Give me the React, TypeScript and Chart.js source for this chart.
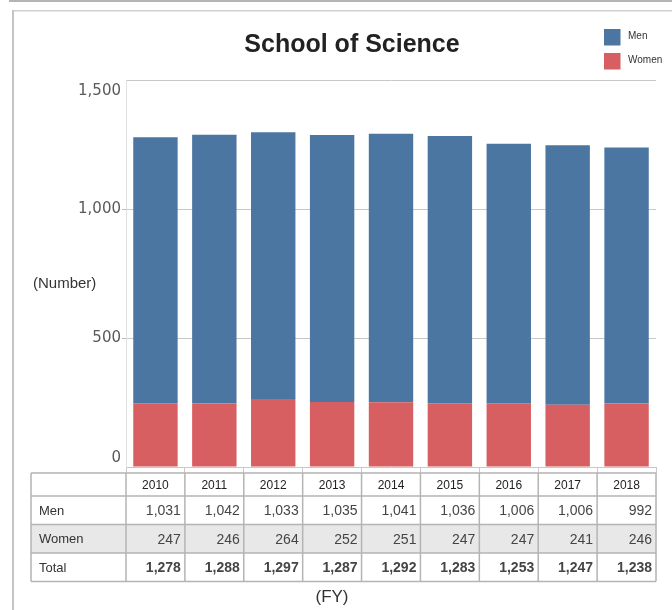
import React, { useEffect, useRef } from 'react';
import { Chart, registerables } from 'chart.js';

Chart.register(...registerables);

const years = ['2010', '2011', '2012', '2013', '2014', '2015', '2016', '2017', '2018'];
const men = [1031, 1042, 1033, 1035, 1041, 1036, 1006, 1006, 992];
const women = [247, 246, 264, 252, 251, 247, 247, 241, 246];
const totals = [1278, 1288, 1297, 1287, 1292, 1283, 1253, 1247, 1238];
const yTicks = [0, 500, 1000, 1500];
const seriesNames = ['Men', 'Women'];
const rowLabels = ['Men', 'Women', 'Total'];
const titleText = 'School of Science';
const yAxisLabel = '(Number)';
const xAxisLabel = '(FY)';

const MEN_COLOR = '#4a76a1';
const WOMEN_COLOR = '#d85f61';
const FONT = '"Liberation Sans", Arial, sans-serif';

const fmt = (v: number) => v.toLocaleString('en-US');

const framePlugin = {
  id: 'frame',
  beforeDraw(chart: any) {
    const ctx = chart.ctx;
    ctx.save();
    ctx.fillStyle = '#ffffff';
    ctx.fillRect(0, 0, chart.width, chart.height);
    ctx.fillStyle = '#b4b4b4';
    ctx.fillRect(9, 0, chart.width - 9, 2);
    ctx.fillStyle = '#d0d0d0';
    ctx.fillRect(12, 10, chart.width - 12, 1.5);
    ctx.fillStyle = '#c4c4c4';
    ctx.fillRect(12, 10, 2, chart.height - 10);
    ctx.restore();
  },
};

const decorPlugin = {
  id: 'decor',
  afterDraw(chart: any) {
    const ctx = chart.ctx;
    const area = chart.chartArea;
    const ys = chart.scales.y;
    const xs = chart.scales.x;
    ctx.save();

    // y tick labels
    ctx.font = '15px "DejaVu Sans", sans-serif';
    ctx.fillStyle = '#5a5a5a';
    ctx.textAlign = 'right';
    ctx.textBaseline = 'middle';
    yTicks.forEach((v) => {
      let y = ys.getPixelForValue(v);
      if (v === ys.max) y += 11;
      if (v === ys.min) y -= 9;
      ctx.fillText(fmt(v), area.left - 5, y);
    });

    // y axis label
    ctx.font = '15px ' + FONT;
    ctx.fillStyle = '#333333';
    ctx.textAlign = 'left';
    ctx.fillText(yAxisLabel, 33, 284);

    // legend
    seriesNames.forEach((name, i) => {
      const ds = chart.data.datasets.find((d: any) => d.label === name);
      const y0 = 29 + i * 24;
      ctx.fillStyle = ds.backgroundColor;
      ctx.fillRect(604, y0, 16.5, 16.5);
      ctx.fillStyle = '#333333';
      ctx.font = '10px ' + FONT;
      ctx.textAlign = 'left';
      ctx.textBaseline = 'middle';
      ctx.fillText(name, 628, y0 + 7);
    });

    // table
    const n = years.length;
    const colW = (xs.right - xs.left) / n;
    const tLeft = 31;
    const tRight = xs.right;
    const rowEdges = [473, 496, 524.5, 553, 581.5];
    const rowsData = [men, women, totals];

    ctx.fillStyle = '#e8e8e8';
    ctx.fillRect(tLeft, rowEdges[2], tRight - tLeft, rowEdges[3] - rowEdges[2]);

    ctx.strokeStyle = '#b4b4b4';
    ctx.lineWidth = 1.5;
    ctx.beginPath();
    rowEdges.forEach((y) => {
      ctx.moveTo(tLeft, y);
      ctx.lineTo(tRight, y);
    });
    ctx.moveTo(tLeft, rowEdges[0]);
    ctx.lineTo(tLeft, rowEdges[4]);
    for (let i = 0; i < n; i++) {
      const xl = xs.getPixelForValue(i) - colW / 2;
      ctx.moveTo(xl, rowEdges[0]);
      ctx.lineTo(xl, rowEdges[4]);
    }
    ctx.moveTo(tRight, rowEdges[0]);
    ctx.lineTo(tRight, rowEdges[4]);
    ctx.stroke();

    // header
    ctx.textBaseline = 'middle';
    ctx.textAlign = 'center';
    ctx.fillStyle = '#222222';
    ctx.font = '12px ' + FONT;
    years.forEach((yr, i) => {
      ctx.fillText(yr, xs.getPixelForValue(i), (rowEdges[0] + rowEdges[1]) / 2 + 1);
    });

    rowLabels.forEach((lab, r) => {
      const cy = (rowEdges[r + 1] + rowEdges[r + 2]) / 2 + 1;
      ctx.textAlign = 'left';
      ctx.fillStyle = '#333333';
      ctx.font = '13px ' + FONT;
      ctx.fillText(lab, 39, cy);
      ctx.textAlign = 'right';
      ctx.fillStyle = '#454545';
      ctx.font = (r === 2 ? 'bold ' : '') + '14px ' + FONT;
      rowsData[r].forEach((v, i) => {
        const xr = xs.getPixelForValue(i) + colW / 2 - 4;
        ctx.fillText(fmt(v), xr, cy);
      });
    });

    // x axis label
    ctx.textAlign = 'center';
    ctx.fillStyle = '#333333';
    ctx.font = '17px ' + FONT;
    ctx.fillText(xAxisLabel, 332, 597);

    ctx.restore();
  },
};

export default function App() {
  const ref = useRef<HTMLCanvasElement | null>(null);

  useEffect(() => {
    if (!ref.current) return;
    const chart = new Chart(ref.current, {
      type: 'bar',
      data: {
        labels: years,
        datasets: [
          {
            label: 'Women',
            data: women,
            backgroundColor: WOMEN_COLOR,
            borderWidth: 0,
            barPercentage: 0.754,
            categoryPercentage: 1,
          },
          {
            label: 'Men',
            data: men,
            backgroundColor: MEN_COLOR,
            borderWidth: 0,
            barPercentage: 0.754,
            categoryPercentage: 1,
          },
        ],
      },
      options: {
        responsive: false,
        animation: false,
        devicePixelRatio: 1,
        layout: { padding: { left: 48, right: 16, top: 0, bottom: 137 } },
        plugins: {
          legend: { display: false },
          tooltip: { enabled: false },
          title: {
            display: true,
            text: titleText,
            color: '#222222',
            font: { family: FONT, size: 25, weight: 'bold', lineHeight: 1.2 },
            padding: { top: 30, bottom: 20 },
          },
        },
        scales: {
          x: {
            stacked: true,
            ticks: { display: false },
            grid: {
              offset: true,
              drawOnChartArea: false,
              drawTicks: true,
              tickLength: 6,
              tickColor: '#c8c8c8',
            },
            border: { display: true, color: '#c8c8c8', width: 1 },
            afterFit: (s: any) => {
              s.height = 6;
            },
          },
          y: {
            stacked: true,
            min: 0,
            max: 1500,
            ticks: { display: false, stepSize: 500 },
            grid: {
              color: (c: any) => (c.tick && c.tick.value === 0 ? 'rgba(0,0,0,0)' : '#c8c8c8'),
              tickColor: (c: any) =>
                c.tick && (c.tick.value === 500 || c.tick.value === 1000) ? '#bbbbbb' : 'rgba(0,0,0,0)',
              tickLength: 4,
              lineWidth: 1,
            },
            border: { display: true, color: '#e0e0e0', width: 1 },
            afterFit: (s: any) => {
              s.width = 78;
            },
          },
        },
      },
      plugins: [framePlugin, decorPlugin],
    });
    return () => chart.destroy();
  }, []);

  return (
    <div style={{ position: 'fixed', left: 0, top: 0, width: 672, height: 610 }}>
      <canvas ref={ref} width={672} height={610} style={{ width: 672, height: 610, display: 'block' }} />
    </div>
  );
}
